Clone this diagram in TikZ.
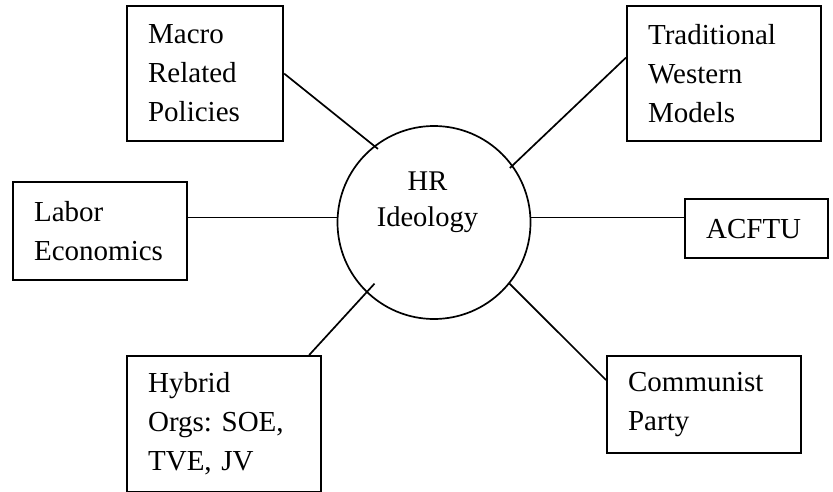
\documentclass[tikz,border=0pt]{standalone}
\usepackage{fontspec}
\setmainfont{Liberation Serif}
\usepackage{tikz}

\newcommand{\topicfont}{\fontsize{29}{39}\selectfont}
\newcommand{\hubfont}{\fontsize{28.5}{36}\selectfont}
\frenchspacing

\begin{document}
\begin{tikzpicture}[x=1pt,y=-1pt,
    topic/.style={draw,line width=2.2pt,anchor=north west,align=left,inner xsep=21pt,inner ysep=0pt,font=\topicfont},
    hub/.style={draw,circle,line width=1.7pt,minimum size=193pt,inner sep=0},
    link/.style={line width=1.7pt}]
        \useasboundingbox (0,0) rectangle (833,492);
        \node[hub,label={[shift={(-6.5pt,20pt)},align=center,font=\hubfont]center:HR\\Ideology}] (hr) at (434,222.5) {};
        \node[topic,text width=114pt,minimum height=135pt] (macro) at (126,5) {Macro\\Related\\Policies};
        \node[topic,text width=152pt,minimum height=135pt] (trad) at (626,5) {Traditional\\Western\\Models};
        \node[topic,text width=132pt,minimum height=98pt] (labor) at (12,181) {Labor\\Economics};
        \node[topic,text width=101pt,minimum height=59pt] (acftu) at (684,198) {ACFTU};
        \node[topic,text width=152pt,minimum height=136pt] (hybrid) at (126,355) {Hybrid\\Orgs: SOE,\\TVE, JV};
        \node[topic,text width=152pt,minimum height=97pt] (party) at (606,355) {Communist\\Party};
        \draw[link,shorten >=-5pt] (macro.east) -- (hr.128);
        \draw[link,shorten >=-4pt] ([yshift=16pt]trad.west) -- (hr.36);
        \draw[link] (hr.177) -- (labor.east |- hr.177);
        \draw[link] (hr.3) -- (acftu.west |- hr.3);
        \draw[link,shorten >=-12pt] ([xshift=-13pt]hybrid.north east) -- (hr.226.5);
        \draw[link] (hr.-39) -- ([yshift=-25pt]party.north west);
      \end{tikzpicture}
\end{document}
